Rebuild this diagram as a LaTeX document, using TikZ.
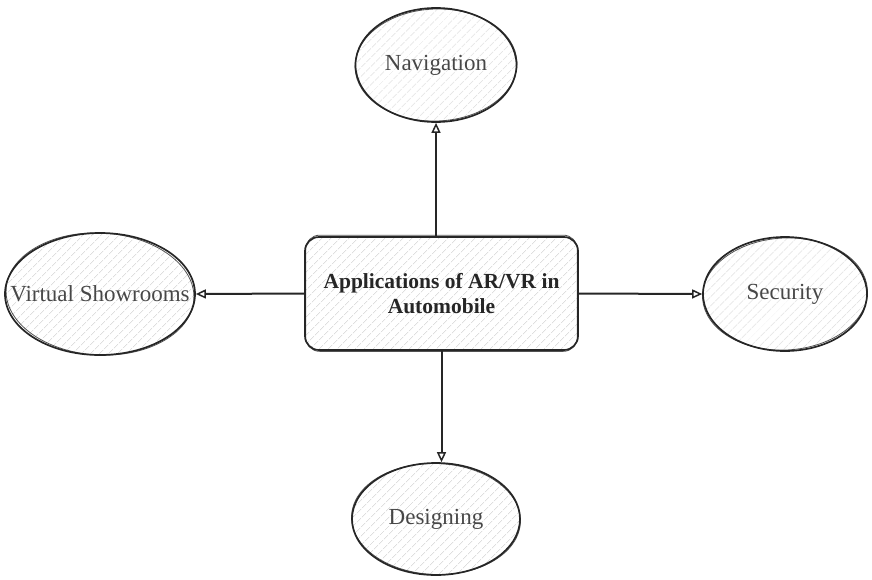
\documentclass[tikz,border=0pt]{standalone}
\usepackage{fontspec}
\setmainfont{Liberation Serif}
\usetikzlibrary{shapes.geometric,arrows.meta,patterns.meta}
\definecolor{ink}{HTML}{262626}
\definecolor{hatch}{HTML}{CCCCCC}
\begin{document}
\begin{tikzpicture}[x=1pt,y=-1pt,
  hatched/.style={pattern={Lines[angle=45,distance=6.5pt,line width=0.7pt]},pattern color=hatch},
  bubble/.style={ellipse,draw=ink,line width=1.7pt,hatched,inner sep=0pt,
    font=\fontsize{23}{27}\selectfont,text=ink!85},
  central/.style={rectangle,rounded corners=14pt,draw=ink,line width=1.7pt,hatched,
    align=center,font=\fontsize{21.5}{25}\selectfont\bfseries,text=ink},
  sketch/.style={draw=ink,line width=0.8pt,opacity=0.8},
  link/.style={draw=ink,line width=2pt,-{Triangle[open,length=10pt,width=9pt,line width=1.5pt]}}
]
\useasboundingbox (0,0) rectangle (872,579);

% hub
\node[central,minimum width=273pt,minimum height=113pt] (hub) at (441.5,293.5)
  {Applications of AR/VR in\\Automobile};

% outer bubbles (labels boxed at zero width so the ellipse keeps its set size)
\node[bubble,minimum width=161pt,minimum height=114pt] (nav) at (436,65) {\makebox[0pt]{Navigation}};
\node[bubble,minimum width=190pt,minimum height=122pt] (vs) at (100,294) {\makebox[0pt]{Virtual Showrooms}};
\node[bubble,minimum width=164pt,minimum height=114pt] (sec) at (785,294) {\makebox[0pt]{Security}};
\node[bubble,minimum width=168pt,minimum height=112pt] (des) at (436,519) {\makebox[0pt]{Designing}};

% second pencil strokes for a hand-drawn feel
\draw[sketch,rotate around={2:(nav.center)}] (nav.center) ellipse (81pt and 56pt);
\draw[sketch,rotate around={-3:(vs.center)}] (vs.center) ellipse (94pt and 61pt);
\draw[sketch,rotate around={3:(sec.center)}] (sec.center) ellipse (82.5pt and 56pt);
\draw[sketch,rotate around={-2:(des.center)}] (des.center) ellipse (84.5pt and 55.5pt);
\draw[sketch,rounded corners=14pt] ([shift={(1pt,-1pt)}]hub.south west) rectangle ([shift={(-1pt,1.5pt)}]hub.north east);

% connectors
\draw[link] (nav.south |- hub.north) -- (nav.south);
\draw[link] (hub.west) -- (vs.east);
\draw[link] (hub.east) -- (sec.west);
\draw[link] (hub.south) -- (hub.south |- des.north);
\end{tikzpicture}
\end{document}
